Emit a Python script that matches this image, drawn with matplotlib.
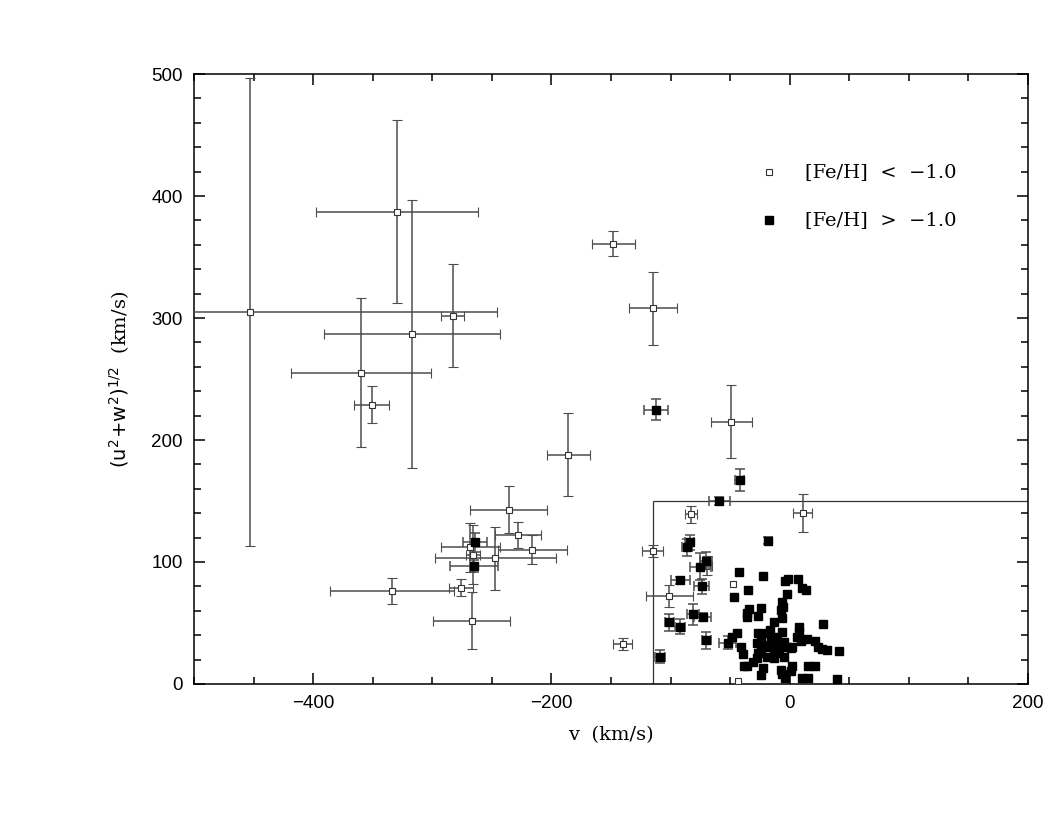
import matplotlib
matplotlib.use('Agg')
import matplotlib.pyplot as plt
from matplotlib.ticker import MultipleLocator

# metal-poor stars with error bars
poor_v = [-453, -330, -317, -283, -360, -351, -148, -115, -49, -186, -236, -228, -216,
          -247, -268, -266, -276, -334, -267, 11, -83, -115, -69, -101, -140]
poor_uw = [305, 387, 287, 302, 255, 229, 361, 308, 215, 188, 143, 122, 110,
           103, 112, 106, 79, 76, 52, 140, 139, 109, 97, 72, 33]
poor_verr = [207, 68, 74, 10, 59, 15, 18, 20, 17, 18, 32, 19, 29,
             51, 25, 6, 10, 52, 32, 8, 5, 9, 4, 20, 8]
poor_uwerr = [192, 75, 110, 42, 61, 15, 10, 30, 30, 34, 19, 10.5, 12,
              26, 20, 24, 7, 10.5, 23.5, 15.5, 7, 5, 8, 9, 5]

# metal-poor stars without error bars
poor2_v = [-48, -43]
poor2_uw = [82, 2.5]

# metal-rich stars with error bars
rich_v = [-112, -42, -59, -264, -265, -18, -84, -86, -70, -75, -92, -74, -81, -73,
          -101, -92, -70, -109, -52]
rich_uw = [225, 167, 150, 116, 97, 117.5, 116, 112, 101, 96, 85, 80, 57, 55,
           50.5, 47, 36, 22.4, 34]
rich_verr = [10, 4, 9, 10, 20, 3, 4, 4, 5, 9, 8, 6, 5, 7, 4, 4, 4, 4, 7]
rich_uwerr = [9, 9, 3, 8, 5, 3, 6, 7, 7, 11, 3, 6, 8.6, 3, 7, 6, 7, 5.5, 5.5]

# metal-rich stars without error bars (disc clump)
rich2_v = [-42.6, -22.2, -4, -1.7, 7, 10.3, 13.4, -35, -46.8, -2, -6.7, -5.3, -7.6,
           -23.8, -34, -36, -35.6, -27, -6.3, -13.2, 28.3, 8.1, 8.1, -16.6, -26.3,
           6, 9.2, 14.3, 21.3, -44.5, -48.2, -41.2, -39, -27.7, -24.4, -21.6, -16,
           -11.8, -9, -4.8, -2, 0.8, 2.3, -9, -4.8, -13.2, -18.7, -26.3, -27.3, 23.8,
           26.9, 31.6, 41.4, -38.4, -35.6, -30.8, -22.2, -24.4, -7.6, -6.3, -4, 0.8,
           2.3, 10, 15.4, 15.7, 21.3, 40, -17.4, -13.2, -6.3, -24.4, -18.7, -10.3]
rich2_uw = [91.5, 88.5, 84.4, 86, 86, 79, 76.8, 76.8, 71.6, 73.5, 67, 63.4, 60.7,
            62, 61.2, 58.5, 55.2, 55.7, 53.8, 51, 49.4, 47, 42.9, 44.3, 41.5,
            38.8, 35.2, 36.9, 35.2, 41.5, 38.8, 30.6, 24.3, 33.3, 36, 32, 38,
            35.2, 32, 34.2, 30.6, 29.3, 30.6, 25.1, 22.4, 21.1, 22.4, 25.1, 21.1, 30.6,
            28.4, 27.9, 27, 15, 15, 17.7, 12.8, 7.4, 11.5, 8, 4.7, 10.7,
            15, 4.7, 4.7, 15, 15, 3.8, 30.6, 27.9, 42.9, 27.9, 41.5, 38.8]

box_v = -115
box_uw = 150

fig = plt.figure(figsize=(10.58, 8.17), dpi=100)
ax = fig.add_axes([0.1834, 0.1628, 0.7882, 0.7466])

err_style = dict(ls='none', ecolor='0.3', elinewidth=1.1, capsize=3.5, capthick=1.1)
ax.errorbar(poor_v, poor_uw, xerr=poor_verr, yerr=poor_uwerr, marker='s', ms=5,
            mfc='white', mec='0.2', mew=0.8, zorder=3, **err_style)
ax.plot(poor2_v, poor2_uw, 's', ms=5, mfc='white', mec='0.2', mew=0.8, zorder=3)
ax.errorbar(rich_v, rich_uw, xerr=rich_verr, yerr=rich_uwerr, marker='s', ms=6,
            mfc='black', mec='black', zorder=4, **err_style)
ax.plot(rich2_v, rich2_uw, 's', ms=6, color='black', zorder=4)

ax.vlines(box_v, 0, box_uw, color='0.2', lw=0.9)
ax.hlines(box_uw, box_v, 200, color='0.2', lw=0.9)

ax.set_xlim(-500, 200)
ax.set_ylim(0, 500)
ax.xaxis.set_major_locator(MultipleLocator(200))
ax.xaxis.set_minor_locator(MultipleLocator(50))
ax.yaxis.set_major_locator(MultipleLocator(100))
ax.yaxis.set_minor_locator(MultipleLocator(20))
ax.tick_params(which='both', direction='in', top=True, right=True, width=1.1)
ax.tick_params(which='major', length=8, labelsize=13.5, pad=8)
ax.tick_params(which='minor', length=5)
for lab in ax.get_xticklabels() + ax.get_yticklabels():
    lab.set_fontfamily('Liberation Sans')
for s in ax.spines.values():
    s.set_linewidth(1.1)

plt.rcParams['mathtext.fontset'] = 'dejavuserif'
ax.set_xlabel('v  (km/s)', family='DejaVu Serif', fontsize=14, labelpad=10)
ax.set_ylabel(r'$(\mathrm{u}^2\!+\!\mathrm{w}^2)^{1/2}$  (km/s)', family='DejaVu Serif',
              fontsize=14, labelpad=14)

# legend
ax.plot([0.69], [0.839], 's', ms=5, mfc='white', mec='0.2', mew=0.8, transform=ax.transAxes)
ax.plot([0.69], [0.760], 's', ms=6, color='black', transform=ax.transAxes)
ax.text(0.733, 0.839, '[Fe/H]  <  \u22121.0', transform=ax.transAxes, va='center',
        family='DejaVu Serif', fontsize=14)
ax.text(0.733, 0.760, '[Fe/H]  >  \u22121.0', transform=ax.transAxes, va='center',
        family='DejaVu Serif', fontsize=14)

fig.savefig('out.png', dpi=100)
